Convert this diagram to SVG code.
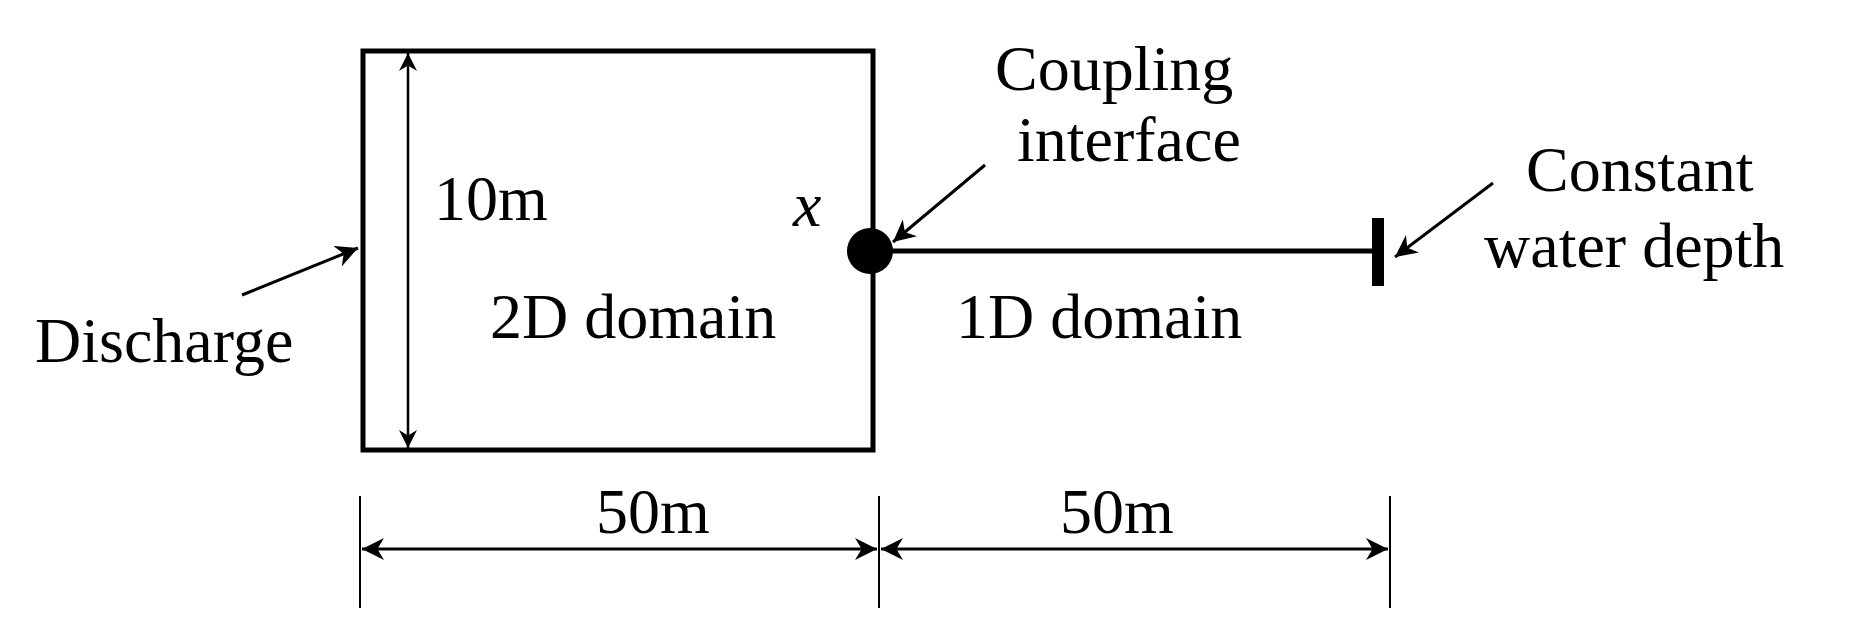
<svg xmlns="http://www.w3.org/2000/svg" width="1850" height="640" viewBox="0 0 1850 640">
<style>
text{font-family:"Liberation Serif","DejaVu Serif",serif;font-size:64px;fill:#000}
.l{stroke:#000;fill:none}
</style>
<defs>
<marker id="a" viewBox="0 0 10 10" refX="10" refY="5" markerWidth="18" markerHeight="18" markerUnits="userSpaceOnUse" orient="auto-start-reverse"><path d="M0,0 L10,5 L0,10 L3,5Z" fill="#000"/></marker>
<marker id="b" viewBox="0 0 10 10" refX="10" refY="5" markerWidth="22" markerHeight="22" markerUnits="userSpaceOnUse" orient="auto-start-reverse"><path d="M0,0 L10,5 L0,10 L3,5Z" fill="#000"/></marker>
</defs>
<g id="domain2d"><rect x="363" y="51" width="510" height="399" class="l" stroke-width="5"/>
<text x="434" y="220">10m</text><text x="490" y="338">2D domain</text>
<text x="793" y="226" font-style="italic">x</text></g>
<g id="coupling"><circle cx="870" cy="251" r="23" fill="#000"/><text x="995" y="90">Coupling</text><text x="1017" y="161">interface</text></g>
<g id="domain1d"><line x1="890" y1="251" x2="1378" y2="251" class="l" stroke-width="5"/><text x="956" y="338">1D domain</text></g>
<g id="boundary"><rect x="1372" y="218" width="12" height="68" fill="#000"/><text x="1526" y="191">Constant</text><text x="1484" y="267">water depth</text></g>
<g id="discharge"><text x="35" y="362">Discharge</text></g>
<g id="connectors" class="l" stroke-width="3">
<line x1="408" y1="53" x2="408" y2="448" marker-start="url(#a)" marker-end="url(#a)" stroke-width="2.5"/>
<line x1="985" y1="165" x2="893" y2="242" marker-end="url(#b)"/>
<line x1="1493" y1="183" x2="1395" y2="257" marker-end="url(#b)"/>
<line x1="242" y1="295" x2="358" y2="248" marker-end="url(#b)"/>
<line x1="360" y1="496" x2="360" y2="608" stroke-width="2"/>
<line x1="879" y1="496" x2="879" y2="608" stroke-width="2"/>
<line x1="1390" y1="496" x2="1390" y2="608" stroke-width="2"/>
<line x1="362" y1="549" x2="877" y2="549" marker-start="url(#b)" marker-end="url(#b)"/>
<line x1="881" y1="549" x2="1388" y2="549" marker-start="url(#b)" marker-end="url(#b)"/>
</g>
<text x="596" y="533">50m</text><text x="1060" y="533">50m</text>
</svg>
